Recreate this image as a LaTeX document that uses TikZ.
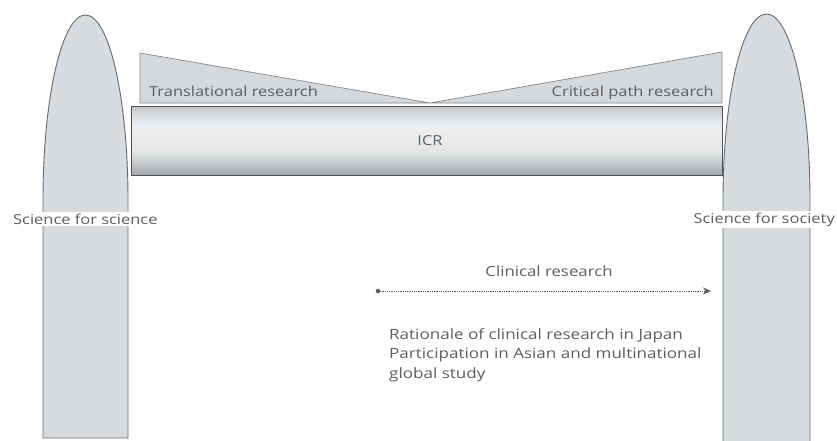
\documentclass[tikz,border=0pt]{standalone}
\usepackage{fontspec}
\setmainfont[FakeStretch=1.2]{Open Sans}
\usetikzlibrary{arrows.meta}
\definecolor{pillfill}{HTML}{D9DCDE}
\definecolor{pilledge}{HTML}{64696D}
\definecolor{bardark}{HTML}{4A5258}
\definecolor{trifill}{HTML}{D6D9DB}
\definecolor{txt}{HTML}{5A5F63}
\definecolor{bs1}{HTML}{5F6B72}
\definecolor{bs2}{HTML}{8C969E}
\definecolor{bs3}{HTML}{D4D8DC}
\definecolor{bs4}{HTML}{EEF0F1}
\definecolor{bs5}{HTML}{E4E6E7}
\definecolor{bs6}{HTML}{B0B4B7}
\definecolor{bs7}{HTML}{7C8286}
\definecolor{bs8}{HTML}{50565A}
\pgfdeclareverticalshading{barshade}{100bp}{
  color(0bp)=(bardark); color(6bp)=(bs1); color(15bp)=(bs2); color(30bp)=(bs3);
  color(40bp)=(bs4); color(58bp)=(bs5); color(72bp)=(bs6); color(88bp)=(bs7); color(100bp)=(bs8)}
\tikzset{
  pillar/.style={fill=pillfill, draw=pilledge, line width=0.9pt},
  tri/.style={fill=trifill, draw=pilledge!80, line width=0.7pt},
  lbl/.style={text=txt, font=\fontsize{13.7}{15}\selectfont, inner sep=1pt},
  clbl/.style={text=txt, font=\fontsize{14}{15}\selectfont, inner sep=1pt},
  blbl/.style={text=txt, font=\fontsize{14.2}{19.5}\selectfont, inner sep=1pt},
  plbl/.style={lbl, fill=white, inner sep=2pt},
}
\begin{document}
\begin{tikzpicture}[x=1pt,y=-1pt]
\useasboundingbox (0,0) rectangle (837,440);
% pillars
\draw[pillar] (43,438) -- (43,200) arc[start angle=180, end angle=360, x radius=42.5, y radius=185] -- (128,438) -- cycle;
\draw[pillar] (723,441) -- (723,200) arc[start angle=180, end angle=360, x radius=43.5, y radius=186] -- (810,441);
% triangles
\draw[tri] (140,103) -- (140,53) -- (430,103) -- cycle;
\draw[tri] (430,103) -- (722,52) -- (722,103) -- cycle;
% bar
\shade[shading=barshade, shading angle=180] (131,106) rectangle (722,175);
\draw[bardark, line width=0.6pt] (131,106) rectangle (722,175);
% labels
\node[lbl, anchor=base west] (tr) at (148,96) {Translational research};
\node[lbl, anchor=base east] (cp) at (715,96) {Critical path research};
\node[lbl] (icr) at (430,141) {ICR};
\node[plbl, anchor=base west] (ssci) at (11,224) {Science for science};
\node[plbl, anchor=base east] (ssoc) at (837,223) {Science for society};
% clinical research arrow
\coordinate (cs) at (378,291);
\coordinate (ce) at (711,291);
\fill[txt] (cs) circle (2.3);
\draw[txt, densely dotted, line width=0.8pt, -{Stealth[length=8pt,width=7pt]}] (cs) -- (ce);
\node[clbl, anchor=base] (clin) at (549,276) {Clinical research};
\node[blbl, anchor=base west, align=left] (rat) at (388,378) {Rationale of clinical research in Japan\\Participation in Asian and multinational\\global study};
\end{tikzpicture}
\end{document}
